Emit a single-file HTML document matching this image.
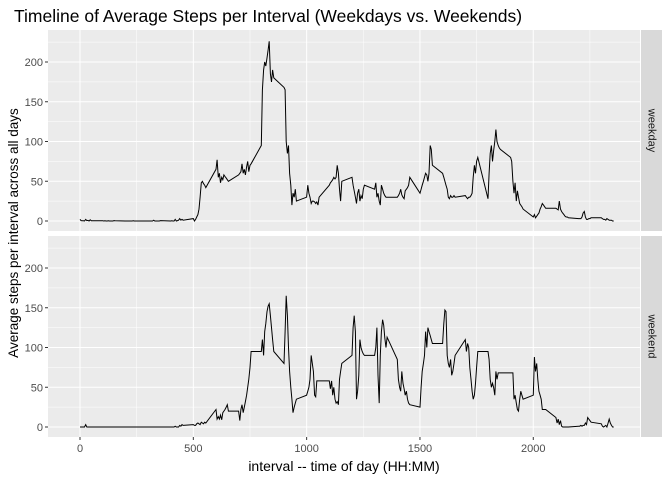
<!DOCTYPE html>
<html><head><meta charset="utf-8"><style>
body{margin:0;background:#fff;font-family:"Liberation Sans",sans-serif}
</style></head><body>
<svg id="c" width="672" height="480" xmlns="http://www.w3.org/2000/svg"></svg>
<script>
const xTicks=[0,500,1000,1500,2000];
const yTicks=[0,50,100,150,200];
const facets=["weekday","weekend"];
const weekday=[
2,0.5,0.2,0.2,0,2,0.5,0.8,0,1.5,0.3,0.2,
0.4,0,0.2,0,0,0.3,0,0,0,0,0.5,0.2,
0,0,0,0,0,0,0,0.2,0,0,0,0,
0,0,0,0,0,1,0,0,0,0,0,0.5,
0,0.3,0,0,2,0,0.5,1,3,1,2,1,
3,0,2,5,8,15,30,48,50,47,45,42,
65,77,55,60,48,55,52,58,56,54,52,50,
58,60,62,72,60,65,58,68,75,62,70,72,
95,165,190,200,195,205,215,226,185,175,190,180,
168,165,100,85,95,60,45,20,35,30,40,25,
30,45,35,30,22,25,25,24,22,24,20,30,
45,48,50,52,55,53,55,70,60,40,25,50,
55,45,38,30,22,35,40,25,32,28,40,45,
40,48,30,35,25,20,45,40,35,32,30,30,
30,32,35,40,33,30,28,38,40,42,45,55,
35,40,45,50,55,60,58,50,60,95,90,70,
60,55,50,45,40,30,28,32,30,30,32,30,
32,30,28,30,30,32,35,55,70,60,75,80,
28,60,85,95,75,88,100,115,100,95,92,90,
80,75,50,35,48,25,38,30,22,20,18,15,
5,8,4,6,8,10,15,18,22,20,18,16,
16,15,14,25,15,12,10,8,6,5,5,4,
3,3,3,5,10,12,5,2,2,3,3,4,
4,3,2,2,1,3,2,1,1,1,0,0];
const weekend=[
0,0,0,0,0,3,0,0,0,0,0,0,
0,0,0,0,0,0,0,0,0,0,0,0,
0,0,0,0,0,0,0,0,0,0,0,0,
0,0,0,0,0,0,0,0,0,0,0,0,
0,0,0,0,1,0,0,0,2,1,3,2,
3,2,2,4,5,4,3,6,5,4,6,5,
22,10,13,10,15,9,18,20,22,25,28,20,
20,8,22,28,18,25,32,40,50,60,75,95,
95,110,90,120,130,145,152,155,140,125,110,95,
80,120,165,140,100,70,50,35,18,25,30,35,
40,45,50,60,90,80,70,40,38,58,58,58,
58,48,58,40,50,35,30,32,28,60,70,80,
90,125,140,120,35,45,65,110,100,95,92,90,
90,100,125,65,30,90,120,135,128,112,100,113,
85,60,50,45,70,55,48,40,45,35,30,28,
25,50,70,80,90,120,100,125,120,115,110,105,
105,130,147,145,90,80,75,85,65,70,80,90,
110,95,105,100,75,60,45,35,40,55,75,95,
95,85,60,50,55,50,40,70,60,68,68,68,
68,68,68,35,40,30,22,20,35,45,40,35,
40,88,70,80,60,45,40,35,22,22,22,22,
12,5,10,3,8,1,0,0,0,0,0,0,
1,1,2,1,2,2,5,3,12,10,8,6,
4,1,0,1,2,0,5,10,5,2,0,0];
const series=[weekday,weekend];
const NS="http://www.w3.org/2000/svg";
const svg=document.getElementById('c');
function mk(t,a,p){const e=document.createElementNS(NS,t);for(const k in a)e.setAttribute(k,a[k]);(p||svg).appendChild(e);return e;}
const PL=48,PR=640,panels=[[30,231],[236,437]];
const sx=v=>80+v*0.22664;
function sy(i,v){return (i===0?221:427)-v*0.795;}
const intervals=[];for(let h=0;h<24;h++)for(let m=0;m<60;m+=5)intervals.push(h*100+m);
panels.forEach((p,i)=>{
 const g=mk('g',{});
 
 
 mk('rect',{x:PL,y:p[0],width:PR-PL,height:p[1]-p[0],fill:'#EBEBEB'},g);
 for(let k=0;k<yTicks.length;k++){const mv=yTicks[k]+25;const y=sy(i,mv);if(y>p[0])mk('line',{x1:PL,x2:PR,y1:y,y2:y,stroke:'#fff','stroke-width':0.5},g);}
 xTicks.forEach(t=>{const x=sx(t+250);if(x<PR)mk('line',{x1:x,x2:x,y1:p[0],y2:p[1],stroke:'#fff','stroke-width':0.5},g);});
 yTicks.forEach(t=>{const y=sy(i,t);mk('line',{x1:PL,x2:PR,y1:y,y2:y,stroke:'#fff','stroke-width':1},g);
  mk('line',{x1:PL-3,x2:PL,y1:y,y2:y,stroke:'#333'},g);
  const tx=mk('text',{x:PL-5,y:y+4,'text-anchor':'end','font-size':11,fill:'#4D4D4D'},g);tx.textContent=t;
  });
 xTicks.forEach(t=>{const x=sx(t);mk('line',{x1:x,x2:x,y1:p[0],y2:p[1],stroke:'#fff','stroke-width':1},g);});
 const d=series[i].map((v,j)=>(j?'L':'M')+sx(intervals[j]).toFixed(1)+','+sy(i,v).toFixed(1)).join('');
 const path=mk('path',{d:d,fill:'none',stroke:'#000','stroke-width':1},g);
 
 
 const s=mk('rect',{x:641,y:p[0],width:21,height:p[1]-p[0],fill:'#D9D9D9'},g);
 
 
 const cy=(p[0]+p[1])/2;
 const st=mk('text',{x:651.5,y:cy,'text-anchor':'middle','font-size':11,fill:'#1A1A1A',transform:`rotate(90 651.5 ${cy})`,'dominant-baseline':'middle'},g);st.textContent=facets[i];
 
 
});
xTicks.forEach(t=>{const x=sx(t);mk('line',{x1:x,x2:x,y1:437,y2:440,stroke:'#333'});
 const tx=mk('text',{x:x,y:452,'text-anchor':'middle','font-size':11,fill:'#4D4D4D'});tx.textContent=t;
 });
const xt=mk('text',{x:344,y:471,'text-anchor':'middle','font-size':14,fill:'#000'});xt.textContent='interval -- time of day (HH:MM)';

const yt=mk('text',{x:18,y:233,'text-anchor':'middle','font-size':13.5,fill:'#000',transform:'rotate(-90 18 233)'});yt.textContent='Average steps per interval across all days';

const tt=mk('text',{x:14,y:22,'font-size':17.5,fill:'#000'});tt.textContent='Timeline of Average Steps per Interval (Weekdays vs. Weekends)';

</script>
</body></html>
